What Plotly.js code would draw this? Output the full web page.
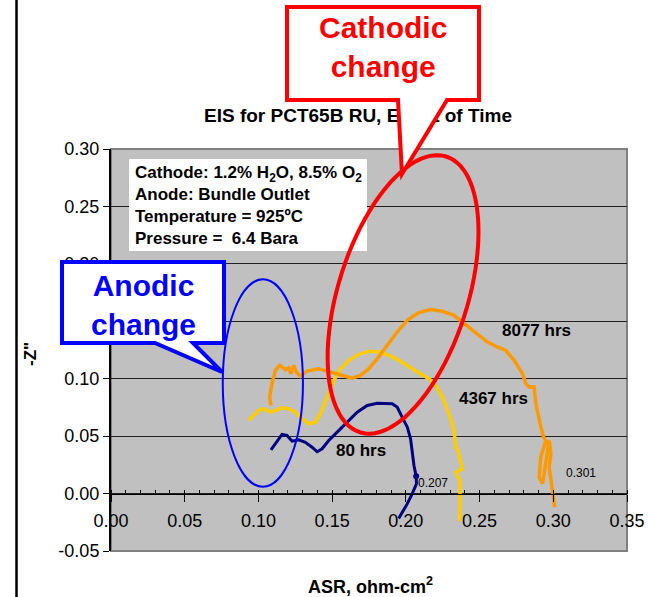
<!DOCTYPE html>
<html>
<head>
<meta charset="utf-8">
<script src="https://cdn.plot.ly/plotly-3.0.1.min.js"></script>
<style>
  html, body { margin: 0; padding: 0; background: #ffffff; }
  #chart { width: 648px; height: 597px; }
</style>
</head>
<body>
<div id="chart"></div>
<script>
// EIS Nyquist traces: ASR (ohm-cm2) against -Z'' after 80, 4367 and 8077 hours
const seriesNames = ['80 hrs', '4367 hrs', '8077 hrs'];

const asr80 = [0.1085, 0.1160, 0.1194, 0.1228, 0.1273, 0.1318, 0.1364, 0.1398, 0.1432, 0.1477,
               0.1534, 0.1602, 0.1670, 0.1738, 0.1806, 0.1907, 0.1941, 0.1975, 0.2010, 0.2032,
               0.2044, 0.2055, 0.2070, 0.2072, 0.2043, 0.2009, 0.1951];
const z80   = [0.0381, 0.0515, 0.0506, 0.0456, 0.0468, 0.0447, 0.0404, 0.0364, 0.0390, 0.0462,
               0.0535, 0.0622, 0.0709, 0.0767, 0.0787, 0.0782, 0.0753, 0.0665, 0.0578, 0.0477,
               0.0346, 0.0244, 0.0150, 0.0085, -0.0003, -0.0090, -0.0218];

const asr4367 = [0.0933, 0.0967, 0.1001, 0.1035, 0.1081, 0.1115, 0.1160, 0.1205, 0.1251, 0.1296,
                 0.1341, 0.1386, 0.1420, 0.1466, 0.1511, 0.1556, 0.1613, 0.1681, 0.1749, 0.1817,
                 0.1885, 0.1953, 0.2021, 0.2078, 0.2157, 0.2202, 0.2248, 0.2293, 0.2327, 0.2338,
                 0.2353, 0.2383, 0.2338, 0.2367, 0.2367, 0.2365];
const z4367   = [0.0637, 0.0680, 0.0724, 0.0739, 0.0709, 0.0724, 0.0747, 0.0739, 0.0709, 0.0651,
                 0.0608, 0.0622, 0.0695, 0.0840, 0.0985, 0.1087, 0.1160, 0.1212, 0.1238, 0.1232,
                 0.1203, 0.1160, 0.1101, 0.1058, 0.1000, 0.0942, 0.0840, 0.0695, 0.0549, 0.0404,
                 0.0375, 0.0215, 0.0186, 0.0113, -0.0061, -0.0244];

const asr8077 = [0.1085, 0.1076, 0.1092, 0.1115, 0.1144, 0.1183, 0.1205, 0.1221, 0.1239, 0.1257,
                 0.1284, 0.1329, 0.1409, 0.1466, 0.1522, 0.1578, 0.1635, 0.1692, 0.1749, 0.1806,
                 0.1874, 0.1941, 0.2009, 0.2088, 0.2168, 0.2247, 0.2326, 0.2394, 0.2474, 0.2553,
                 0.2621, 0.2678, 0.2734, 0.2791, 0.2814, 0.2836, 0.2870, 0.2882, 0.2911, 0.2934,
                 0.2950, 0.2915, 0.2904, 0.2927, 0.2972, 0.2984, 0.2972, 0.2990, 0.3010];
const z8077   = [0.0767, 0.0840, 0.0957, 0.1073, 0.1116, 0.1079, 0.1096, 0.1044, 0.1116, 0.1058,
                 0.1020, 0.1067, 0.1087, 0.1067, 0.1044, 0.1020, 0.1005, 0.1029, 0.1087, 0.1175,
                 0.1291, 0.1407, 0.1509, 0.1576, 0.1602, 0.1587, 0.1552, 0.1480, 0.1393, 0.1319,
                 0.1276, 0.1247, 0.1160, 0.1044, 0.0957, 0.0927, 0.0927, 0.0782, 0.0608, 0.0491,
                 0.0462, 0.0317, 0.0142, 0.0085, 0.0462, 0.0346, 0.0229, 0.0085, -0.0120];

// marked points and their value labels
const markedAsr = [0.207];
const markedZ = [0.0150];
const valueLabels = ['0.207', '0.301'];
const valueLabelX = [0.207, 0.301];

const yTickVals = [-0.05, 0.00, 0.05, 0.10, 0.15, 0.20, 0.25, 0.30];
const yTickText = ['-0.05', '0.00', '0.05', '0.10', '0.15', '0.20', '0.25', '0.30'];

const FONT = 'Arial, "Liberation Sans", sans-serif';

// plot-area frame in page pixels, used to place the decorations
const L = 111, R = 627, T = 149, B = 551;
const px = x => (x - L) / (R - L);
const py = y => (B - y) / (B - T);

// tilted ellipse (data units) around the cathodic arc
function tiltedEllipse(cx, cy, a, b, c, n) {
  let d = '';
  for (let i = 0; i <= n; i++) {
    const t = 2 * Math.PI * i / n;
    const x = cx + a * Math.cos(t);
    const y = cy + b * Math.cos(t) + c * Math.sin(t);
    d += (i ? 'L' : 'M') + x.toFixed(5) + ',' + y.toFixed(5);
  }
  return d + 'Z';
}

function calloutPath(box, base, tip) {
  // box: [left, top, right, bottom]; pointer leaves the bottom edge
  const [l, t, r, b] = box;
  const pts = [[l, t], [r, t], [r, b], [base[1], b], tip, [base[0], b], [l, b]];
  return pts.map((p, i) => (i ? 'L' : 'M') + px(p[0]).toFixed(5) + ',' + py(p[1]).toFixed(5)).join('') + 'Z';
}

const traces = [
  { x: asr80, y: z80, name: seriesNames[0], mode: 'lines',
    line: { color: '#000080', width: 3 } },
  { x: asr4367, y: z4367, name: seriesNames[1], mode: 'lines',
    line: { color: '#FFCC00', width: 3.5 } },
  { x: asr8077, y: z8077, name: seriesNames[2], mode: 'lines',
    line: { color: '#FF9900', width: 3.5 } },
  { x: markedAsr, y: markedZ, mode: 'markers', showlegend: false,
    marker: { color: '#000080', size: 6 } }
];

const shapes = [
  // plot-area frame
  { type: 'rect', xref: 'paper', yref: 'paper', x0: 0, x1: 1, y0: 0, y1: 1,
    line: { color: '#808080', width: 2 }, layer: 'below' },
  // outer vertical rule at the page edge
  { type: 'line', xref: 'paper', yref: 'paper', x0: px(16.5), x1: px(16.5), y0: py(0), y1: py(597),
    line: { color: '#000000', width: 2.5 } },
  // conditions box
  { type: 'rect', xref: 'paper', yref: 'paper', x0: px(129), x1: px(367), y0: py(251), y1: py(159),
    fillcolor: '#ffffff', line: { width: 0 }, layer: 'above' },
  // chart title
  { type: 'rect', xref: 'paper', yref: 'paper', x0: px(180), x1: px(536), y0: py(124), y1: py(102),
    fillcolor: 'rgba(0,0,0,0)', line: { width: 0 }, layer: 'above',
    label: { text: '<b>EIS for PCT65B RU, Effect of Time</b>', textposition: 'middle center',
             font: { family: FONT, size: 19, color: '#000000' } } },
  // cathodic arc highlight
  { type: 'path', xref: 'x', yref: 'y', layer: 'above',
    path: tiltedEllipse(0.1981, 0.1734, 0.05117, 0.05466, 0.10820, 90),
    line: { color: '#FF0000', width: 4 } },
  // anodic arc highlight
  { type: 'circle', xref: 'x', yref: 'y', layer: 'above',
    x0: 0.1030 - 0.0272, x1: 0.1030 + 0.0272, y0: 0.0962 - 0.0903, y1: 0.0962 + 0.0903,
    line: { color: '#0000FF', width: 2 } },
  // callouts
  { type: 'path', xref: 'paper', yref: 'paper', layer: 'above',
    path: calloutPath([287, 7, 479, 100], [398, 447], [402, 174]),
    fillcolor: '#ffffff', line: { color: '#FF0000', width: 4 } },
  { type: 'path', xref: 'paper', yref: 'paper', layer: 'above',
    path: calloutPath([62, 262, 224, 343], [155, 193], [222, 372]),
    fillcolor: '#ffffff', line: { color: '#0000FF', width: 4 } }
];

const annotations = [
  { xref: 'paper', yref: 'paper', x: px(133), y: py(205.5), xanchor: 'left', yanchor: 'middle',
    align: 'left', showarrow: false,
    text: 'Cathode: 1.2% H<sub>2</sub>O, 8.5% O<sub>2</sub><br>Anode: Bundle Outlet<br>Temperature = 925ºC<br>Pressure =  6.4 Bara',
    font: { family: FONT, size: 17, color: '#000000', weight: 'bold' } },
  { x: 0.2885, y: 0.1418, text: seriesNames[2], showarrow: false,
    font: { family: FONT, size: 17, color: '#000000', weight: 'bold' } },
  { x: 0.2597, y: 0.0828, text: seriesNames[1], showarrow: false,
    font: { family: FONT, size: 17, color: '#000000', weight: 'bold' } },
  { x: 0.1697, y: 0.0371, text: seriesNames[0], showarrow: false,
    font: { family: FONT, size: 17, color: '#000000', weight: 'bold' } },
  { x: valueLabelX[0] + 0.0117, y: 0.0092, text: valueLabels[0], showarrow: false,
    font: { family: FONT, size: 12, color: '#000000' } },
  { x: valueLabelX[1] + 0.0180, y: 0.0180, text: valueLabels[1], showarrow: false,
    font: { family: FONT, size: 12, color: '#000000' } },
  { xref: 'paper', yref: 'paper', x: px(383), y: py(47.5), xanchor: 'center', yanchor: 'middle',
    showarrow: false, text: 'Cathodic<br>change',
    font: { family: FONT, size: 30, color: '#FF0000', weight: 'bold' } },
  { xref: 'paper', yref: 'paper', x: px(143), y: py(305), xanchor: 'center', yanchor: 'middle',
    showarrow: false, text: 'Anodic<br>change',
    font: { family: FONT, size: 30, color: '#0000FF', weight: 'bold' } },
  { xref: 'paper', yref: 'paper', x: px(370), y: py(585), xanchor: 'center', yanchor: 'middle',
    showarrow: false, text: 'ASR, ohm-cm<sup>2</sup>',
    font: { family: FONT, size: 18, color: '#000000', weight: 'bold' } },
  { xref: 'paper', yref: 'paper', x: px(30), y: py(354), xanchor: 'center', yanchor: 'middle',
    showarrow: false, text: '-Z"', textangle: -90,
    font: { family: FONT, size: 17, color: '#000000', weight: 'bold' } }
];

const layout = {
  width: 648, height: 597,
  margin: { l: L, r: 648 - R, t: T, b: 597 - B, pad: 0 },
  paper_bgcolor: '#ffffff',
  plot_bgcolor: '#C0C0C0',
  showlegend: false,
  font: { family: FONT, color: '#000000' },
  xaxis: {
    range: [0, 0.35], tick0: 0, dtick: 0.05, tickformat: '.2f',
    anchor: 'free', position: 0.05 / 0.35,
    showgrid: false, zeroline: false,
    showline: true, linecolor: '#000000', linewidth: 1,
    ticks: 'outside', ticklen: 7, tickcolor: '#000000', tickwidth: 1,
    ticklabelstandoff: 4,
    minor: { dtick: 0.01, ticks: 'inside', ticklen: 4, tickcolor: '#000000', tickwidth: 1, showgrid: false },
    tickfont: { family: FONT, size: 18, color: '#000000' },
    fixedrange: true
  },
  yaxis: {
    range: [-0.05, 0.30], tickvals: yTickVals, ticktext: yTickText,
    showgrid: true, gridcolor: '#202020', gridwidth: 1,
    zeroline: false,
    showline: true, linecolor: '#000000', linewidth: 2,
    ticks: 'outside', ticklen: 6, tickcolor: '#000000', tickwidth: 1,
    tickfont: { family: FONT, size: 18, color: '#000000' },
    fixedrange: true
  },
  shapes: shapes,
  annotations: annotations
};

Plotly.newPlot('chart', traces, layout, { displayModeBar: false, staticPlot: true });
</script>
</body>
</html>
